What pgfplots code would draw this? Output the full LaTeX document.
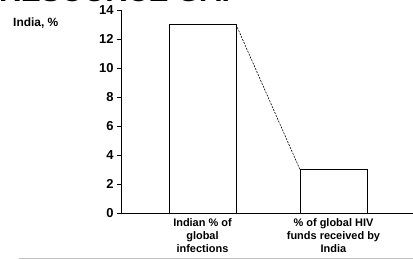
\documentclass[border=0pt]{standalone}
\usepackage{pgfplots}
\pgfplotsset{compat=1.18}
\usepackage{fontspec}
\setmainfont{Liberation Sans}
\begin{document}
\begin{tikzpicture}[x=1bp,y=1bp]
\useasboundingbox (-121,-46) rectangle (292,213);
\node[anchor=base west,font=\bfseries\fontsize{30}{30}\selectfont,inner sep=0pt] at (-122,212) {RESOURCE GAP};
\begin{axis}[
  at={(0,0)}, anchor=south west,
  scale only axis, width=292bp, height=203bp,
  xmin=-0.622, xmax=1.607, ymin=0, ymax=14,
  axis lines*=left,
  axis line style={black, line width=0.7pt, -},
  ytick={0,2,...,14},
  xtick={0,1},
  xticklabels={{Indian \% of\\global\\infections},{\% of global HIV\\funds received by\\India}},
  xticklabel style={align=center, font=\bfseries\fontsize{11}{13}\selectfont, yshift=2bp},
  yticklabel style={font=\bfseries\fontsize{13}{14}\selectfont},
  /pgf/number format/assume math mode=true,
  tick align=outside, major tick length=4bp,
  x tick style={draw=none},
  ytick style={black, line width=0.7pt},
  clip=false,
]
\addplot[ybar, bar width=67bp, draw=black, fill=white, line width=0.7pt] coordinates {(0,13) (1,3)};
\addplot[black, line width=0.6pt, dash pattern=on 2pt off 1.2pt] coordinates {(0.256,13) (0.744,3)};
\end{axis}
\node[anchor=base west, font=\bfseries\fontsize{12}{12}\selectfont, inner sep=0pt] at (-108,187) {India, \%};
\draw[gray!50, line width=1pt] (-102,-45) -- (292,-45);
\end{tikzpicture}
\end{document}
